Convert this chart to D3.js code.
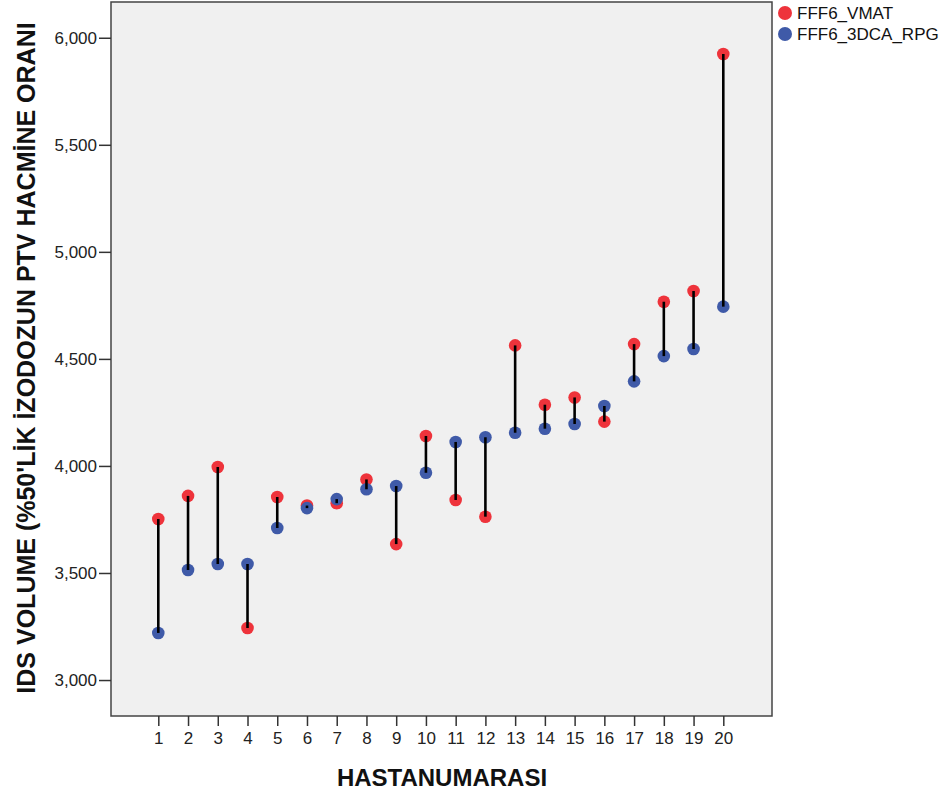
<!doctype html>
<html>
<head>
<meta charset="utf-8">
<script src="https://d3js.org/d3.v7.min.js"></script>
<style>
  body { margin: 0; background: #fff; }
  text { font-family: "Liberation Sans", Arial, sans-serif; }
</style>
</head>
<body>
<svg id="chart" width="947" height="798"></svg>
<script>
// patient numbers
var patients = [1,2,3,4,5,6,7,8,9,10,11,12,13,14,15,16,17,18,19,20];
// FFF6_VMAT
var vmat = [3752,3860,3995,3243,3855,3815,3826,3937,3635,4140,3841,3763,4563,4286,4320,4207,4569,4767,4817,5924];
// FFF6_3DCA_RPG
var rpg = [3220,3514,3542,3542,3710,3803,3845,3891,3906,3968,4112,4134,4155,4174,4196,4280,4395,4513,4546,4744];
var yTicks = [3000,3500,4000,4500,5000,5500,6000];
var seriesNames = ["FFF6_VMAT", "FFF6_3DCA_RPG"];
var seriesColors = ["#ee333b", "#3f5aa8"];

var svg = d3.select("#chart");
var plotL = 111, plotR = 772, plotT = 2, plotB = 716;

var x = d3.scalePoint()
    .domain(patients)
    .range([158.3, 723.3]);

var y = d3.scaleLinear()
    .domain([2832, 6167])
    .range([plotB, plotT]);

// plot background
svg.append("rect")
    .attr("x", plotL).attr("y", plotT)
    .attr("width", plotR - plotL).attr("height", plotB - plotT)
    .attr("fill", "#f0f0f0")
    .attr("stroke", "#444").attr("stroke-width", 1.5);

// axes
var yAxis = svg.append("g")
    .attr("transform", "translate(" + plotL + ",0)")
    .call(d3.axisLeft(y).tickValues(yTicks).tickSize(12).tickSizeOuter(0)
        .tickFormat(d3.format(",")));
var xAxis = svg.append("g")
    .attr("transform", "translate(0," + plotB + ")")
    .call(d3.axisBottom(x).tickSize(10).tickSizeOuter(0));

[yAxis, xAxis].forEach(function(a) {
    a.select(".domain").remove();
    a.selectAll("line").attr("stroke", "#333").attr("stroke-width", 1.5);
    a.selectAll("text").attr("fill", "#222").style("font-size", "17px")
        .style("font-family", "Liberation Sans, Arial, sans-serif");
});
yAxis.selectAll("text").attr("x", -14).attr("dy", "0.35em");
xAxis.selectAll("text").attr("y", 16).attr("dy", "0.71em");

// axis titles
svg.append("text")
    .attr("transform", "translate(35,358) rotate(-90)")
    .attr("text-anchor", "middle")
    .style("font-size", "25px").style("font-weight", "bold")
    .attr("fill", "#111")
    .text("IDS VOLUME (%50'LİK İZODOZUN PTV HACMİNE ORANI");

svg.append("text")
    .attr("x", 442).attr("y", 786)
    .attr("text-anchor", "middle")
    .style("font-size", "24px").style("font-weight", "bold")
    .attr("fill", "#111")
    .text("HASTANUMARASI");

var rows = patients.map(function(p, i) { return { p: p, a: vmat[i], b: rpg[i] }; });

// dots: red first, blue on top
svg.append("g").selectAll("circle")
    .data(rows).enter().append("circle")
    .attr("cx", function(d) { return x(d.p); })
    .attr("cy", function(d) { return y(d.a); })
    .attr("r", 6.3)
    .attr("fill", seriesColors[0]);

svg.append("g").selectAll("circle")
    .data(rows).enter().append("circle")
    .attr("cx", function(d) { return x(d.p); })
    .attr("cy", function(d) { return y(d.b); })
    .attr("r", 6.3)
    .attr("fill", seriesColors[1]);

// drop lines
svg.append("g").selectAll("line")
    .data(rows).enter().append("line")
    .attr("x1", function(d) { return x(d.p); })
    .attr("x2", function(d) { return x(d.p); })
    .attr("y1", function(d) { return y(d.a); })
    .attr("y2", function(d) { return y(d.b); })
    .attr("stroke", "#000")
    .attr("stroke-width", 2.6);

// legend
var legend = svg.append("g").selectAll("g")
    .data(seriesNames).enter().append("g")
    .attr("transform", function(d, i) { return "translate(785," + (13 + i * 21) + ")"; });
legend.append("circle")
    .attr("r", 7)
    .attr("fill", function(d, i) { return seriesColors[i]; });
legend.append("text")
    .attr("x", 12).attr("dy", "0.36em")
    .style("font-size", "17px")
    .attr("fill", "#111")
    .text(function(d) { return d; });
</script>
</body>
</html>
